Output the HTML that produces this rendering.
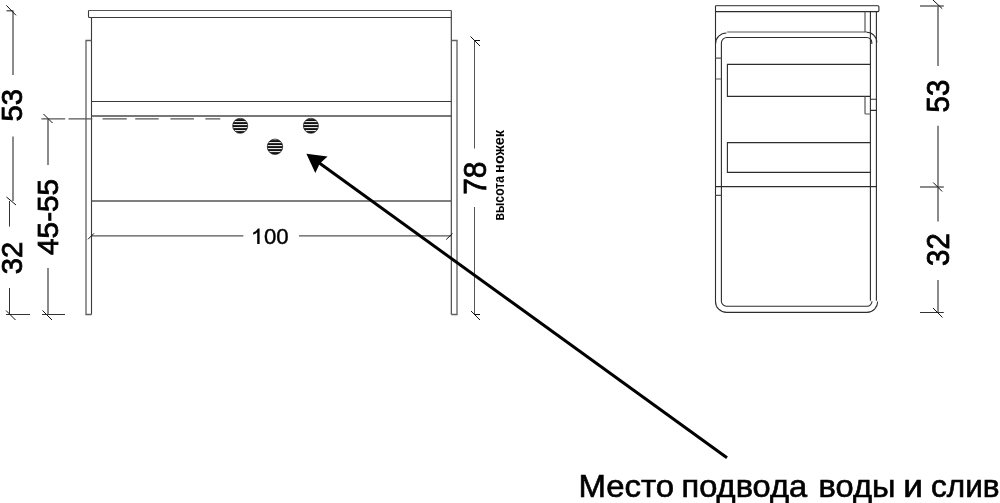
<!DOCTYPE html>
<html><head><meta charset="utf-8">
<style>
html,body{margin:0;padding:0;background:#fff;}
body{width:1000px;height:503px;overflow:hidden;}
svg{display:block;}
text{font-family:"Liberation Sans",sans-serif;fill:#000;}
.l{stroke:#3a3a3a;stroke-width:1.1;fill:none;}
.g{stroke:#555;stroke-width:1.2;fill:none;}
.d{stroke:#555;stroke-width:1;fill:none;}
.n{stroke:#000;stroke-width:0.8;}
.c{stroke:#000;stroke-width:0.65;}
svg{filter:grayscale(1);}
.r{stroke:#2c2c2c;stroke-width:1.1;fill:none;}
.t{stroke:#111;stroke-width:1;fill:none;}
</style></head><body>
<svg width="1000" height="503" viewBox="0 0 1000 503">
<rect width="1000" height="503" fill="#fff"/>
<defs>
<pattern id="h" width="4" height="3" patternUnits="userSpaceOnUse"><rect width="4" height="1.1" fill="#111"/><rect y="2.1" width="4" height="0.9" fill="#111"/></pattern>
</defs>

<!-- LEFT DRAWING -->
<g class="l">
<path d="M88.5 10.5V16.5Q88.5 17.5 89.5 17.5H451.3V10.5"/>
<path d="M91.5 17.5V314.5M451.3 17.5V314.5"/>
<path d="M91.5 101.5H451.3"/><path d="M91.5 116H451.3" stroke="#4a4a4a" stroke-width="1.4"/>
</g>
<path class="g" d="M88.5 10.5H451.3"/>
<path d="M91.5 40.5H86V314.5H91.5M451.3 40.5H457V314.5H451.3" stroke="#606060" stroke-width="1.3" fill="none"/>
<g class="g">
<path d="M91.5 201H451.3" stroke-width="1.4"/>
<path d="M91.5 235.8H243.4M299 235.8H451.3"/>
</g>
<path class="t" d="M88 239.3L94 233.3M446.2 239.5L452.5 233.5"/>

<!-- dashed line -->
<path class="g" d="M41.4 118.9H65.2M68.5 118.9H92.3M102.6 118.9H126.8M135.2 118.9H158.7M170.4 118.9H193.9M205.4 118.9H220.3"/>

<!-- circles -->
<g>
<circle cx="240.2" cy="125.8" r="7.5" fill="url(#h)" stroke="#222" stroke-width="0.8"/>
<circle cx="310.9" cy="125.8" r="7.5" fill="url(#h)" stroke="#222" stroke-width="0.8"/>
<circle cx="275" cy="146.8" r="7.7" fill="url(#h)" stroke="#222" stroke-width="0.8"/>
</g>

<!-- left dimensions -->
<g class="d">
<path d="M13 10.5V75M13 136.5V201M6.5 10.8H13" stroke-width="1.5" stroke="#666"/><path d="M9.5 201V226.5M9.5 288V314.5" stroke="#333"/>
<path d="M6 314.5H30M42 314.5H65" stroke="#333"/>
<path d="M48 119V165M48 268V314.5" stroke-width="1.5" stroke="#666"/>
</g>
<g class="t">
<path d="M6.3 5.3L16 15.3"/>
<path d="M6.5 197L16 205"/>
<path d="M6 310.5L15.5 320"/>
<path d="M43.5 114L52.5 123"/>
<path d="M42.5 310.5L52 320"/>
</g>
<text class="n" transform="translate(21.7 105.35) rotate(-90) scale(0.974 1)" font-size="30" text-anchor="middle">53</text>
<text class="n" transform="translate(21.5 258.1) rotate(-90) scale(0.974 1)" font-size="30" text-anchor="middle">32</text>
<text class="n" transform="translate(57.5 216.9) rotate(-90) scale(1.01 1)" font-size="29.5" text-anchor="middle">45-55</text>
<path d="M259.6 228.5H257.9C257.1 230.1 255.3 231.7 253.2 232.6V234.8C254.8 234.2 256.4 233.2 257.2 232.3V244.1H259.6Z" fill="#000"/>
<text x="288.7" y="244.1" font-size="22.2" text-anchor="end" stroke="#000" stroke-width="0.4">00</text>

<!-- 78 dimension -->
<g class="d">
<path d="M474.5 40.5V148.5M474.5 207V314.5"/>
</g>
<g class="t">
<path d="M470.5 36.5L480 46M474.5 40.5H480"/>
<path d="M471 311L480 320M474.5 314.5H480"/>
</g>
<text class="n" transform="translate(486.1 178.2) rotate(-90) scale(0.962 1)" font-size="31" text-anchor="middle">78</text>
<text transform="translate(504 220.5) rotate(-90)" font-size="15" font-weight="bold" textLength="44.5" lengthAdjust="spacingAndGlyphs">высота</text>
<text transform="translate(504 172.9) rotate(-90)" font-size="15" font-weight="bold" textLength="43" lengthAdjust="spacingAndGlyphs">ножек</text>

<!-- arrow -->
<path d="M319 162.8L727 457.8" stroke="#000" stroke-width="3" fill="none"/>
<path d="M306.4 153.7L327.6 156.4L319.8 163.4L315.3 173.1Z" fill="#000"/>

<!-- RIGHT DRAWING -->
<g class="r">
<path d="M715.5 5.7V11.6H877.9Q878.9 11.6 878.9 10.6V6.7Q878.9 5.7 877.9 5.7"/>
<path d="M715.5 11.6V301.4A11 11 0 0 0 726.5 312.4H867A10.6 10.6 0 0 0 877.6 301.4"/>
<path d="M715.5 44A11 11 0 0 1 726.5 33"/>
<path d="M866.8 32.3A10 10 0 0 1 876.8 42.5"/>
<path d="M721.4 301.4V43A5.5 5.5 0 0 1 726.9 37.5H866.8A5 5 0 0 1 871.8 42.5V44"/>
<path d="M721.4 301.2A5 5 0 0 0 726.4 306.2H867A5 5 0 0 0 872 301.3"/>
<path d="M870.4 11.6V300.8M876.4 11.6V300.8"/>
<path d="M870.4 64.4H727.4V96.4H870.4"/>
<path d="M870.4 142.6H727.4V172.4H870.4"/>
<path d="M870.4 99.2H876.4M870.4 110.4H876.4"/>
<path d="M715.5 186.6H876.4"/>
</g>
<g class="g">
<path d="M715.5 5.7H878"/>
<path d="M727.2 32H867"/>
<path d="M865 11.6V32"/>
<path d="M715.5 58.1H721.4M715.5 79H721.4M715.5 195.4H721.4"/>
<path d="M865 96.4V113.2Q865 114 865.8 114H870.4"/>
</g>

<!-- right dimensions -->
<g class="d">
<path d="M938 6V66M938 125.7V221.4M938 280V312.5" stroke-width="1.5" stroke="#666"/>
<path d="M920 6H943.8M920 187H943.8" stroke-width="1.5" stroke="#666"/><path d="M920 312.5H943.8" stroke="#333"/>
</g>
<g class="t">
<path d="M932.7 -0.3L942.2 8.7M933.2 182.5L942.2 191.5M933 308L942.5 317.5"/>
</g>
<text class="n" transform="translate(949.2 96.1) rotate(-90) scale(0.954 1)" font-size="30.7" text-anchor="middle">53</text>
<text class="n" transform="translate(949.2 249.6) rotate(-90) scale(0.954 1)" font-size="30.7" text-anchor="middle">32</text>

<!-- caption -->
<text transform="translate(578.4 496.9) scale(1.03 1)" font-size="32" class="c">Место</text>
<text transform="translate(681.5 496.9) scale(1.02 1)" font-size="32" class="c">подвода</text>
<text transform="translate(818.6 496.9) scale(1.02 1)" font-size="32" class="c">воды</text>
<text transform="translate(903.3 496.9) scale(1.1 1)" font-size="32" class="c">и</text>
<text transform="translate(931 496.9) scale(0.985 1)" font-size="32" class="c">слив</text>
</svg>
</body></html>
